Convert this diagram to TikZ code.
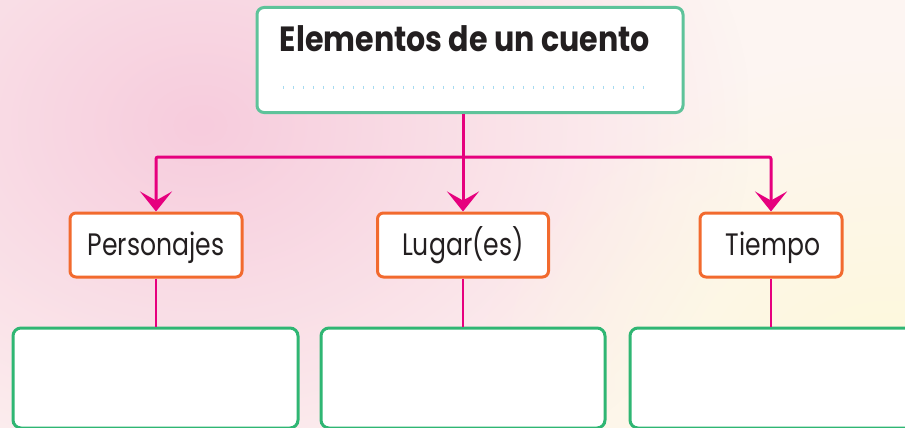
\documentclass[tikz,border=0pt]{standalone}
\usepackage{fontspec}
\setmainfont{Poppins}
\usetikzlibrary{arrows.meta,fadings}
\definecolor{mag}{HTML}{E6007E}
\definecolor{orng}{HTML}{F26A2E}
\definecolor{grn}{HTML}{2FB673}
\definecolor{tgrn}{HTML}{5EC39A}
\definecolor{dotc}{HTML}{A5DAF0}
\definecolor{bgbase}{HTML}{FDF5F2}
\definecolor{bgpink}{HTML}{F7CCDD}
\definecolor{bgyel}{HTML}{FEF9DA}
\definecolor{txt}{HTML}{231F20}
\tikzfading[name=softrad, inner color=transparent!0, outer color=transparent!100]
\tikzset{
  titlebox/.style={draw=tgrn, line width=3pt, fill=white, rounded corners=7pt, minimum width=426pt, minimum height=105pt, inner sep=0pt},
  catbox/.style={draw=orng, line width=3pt, fill=white, rounded corners=6pt, minimum height=64pt, inner sep=0pt},
  answerbox/.style={draw=grn, line width=3pt, fill=white, rounded corners=8pt, minimum height=100pt, inner sep=0pt},
  titletext/.style={font=\fontsize{35}{38}\selectfont\bfseries, text=txt, inner sep=0pt, anchor=base},
  cattext/.style={font=\fontsize{31}{34}\selectfont, text=txt, inner sep=0pt, anchor=base},
  conn/.style={draw=mag, line width=3pt},
  thinconn/.style={draw=mag, line width=2pt},
  tip/.style={-{Stealth[length=20pt, width=32pt, inset=9pt]}}
}
\begin{document}
\begin{tikzpicture}[x=1pt,y=-1pt]
\useasboundingbox (0,0) rectangle (905,428);
\fill[bgbase] (0,0) rectangle (905,428);
\fill[bgpink, path fading=softrad] (-350,-300) rectangle (750,550);
\fill[bgyel, path fading=softrad] (480,60) rectangle (1300,700);
% title
\node[titlebox] (t) at (470,60) {};
\node[titletext] (tt) at (465,52) {\scalebox{0.86}[1]{Elementos de un cuento}};
\draw[dotc, line width=3pt, dash pattern=on 1pt off 9pt] (283,87) -- (652,87);
% categories
\node[catbox, minimum width=172pt] (p) at (156,245) {};
\node[catbox, minimum width=171pt] (l) at (463,245) {};
\node[catbox, minimum width=142pt] (ti) at (771,245) {};
\node[cattext] (pt) at (156,255) {\scalebox{0.81}[1]{Personajes}};
\node[cattext] (lt) at (463,255) {\scalebox{0.81}[1]{Lugar(es)}};
\node[cattext] (tit) at (773,255) {\scalebox{0.81}[1]{Tiempo}};
% answer boxes
\node[answerbox, minimum width=285pt] (a1) at (155.5,378) {};
\node[answerbox, minimum width=284pt] (a2) at (463,378) {};
\node[answerbox, minimum width=300pt] (a3) at (780,378) {};
% connectors
\coordinate (bar) at (0,157);
\draw[conn] (l.north |- t.south) -- (l.north |- bar);
\draw[conn, tip, rounded corners=2pt] (l.north |- bar) -| (p.north);
\draw[conn, tip, rounded corners=2pt] (l.north |- bar) -| (ti.north);
\draw[conn, tip] (l.north |- t.south) -- (l.north);
\draw[thinconn] (p.south) -- (p.south |- a1.north);
\draw[thinconn] (l.south) -- (a2.north);
\draw[thinconn] (ti.south) -- (ti.south |- a3.north);
\end{tikzpicture}
\end{document}
